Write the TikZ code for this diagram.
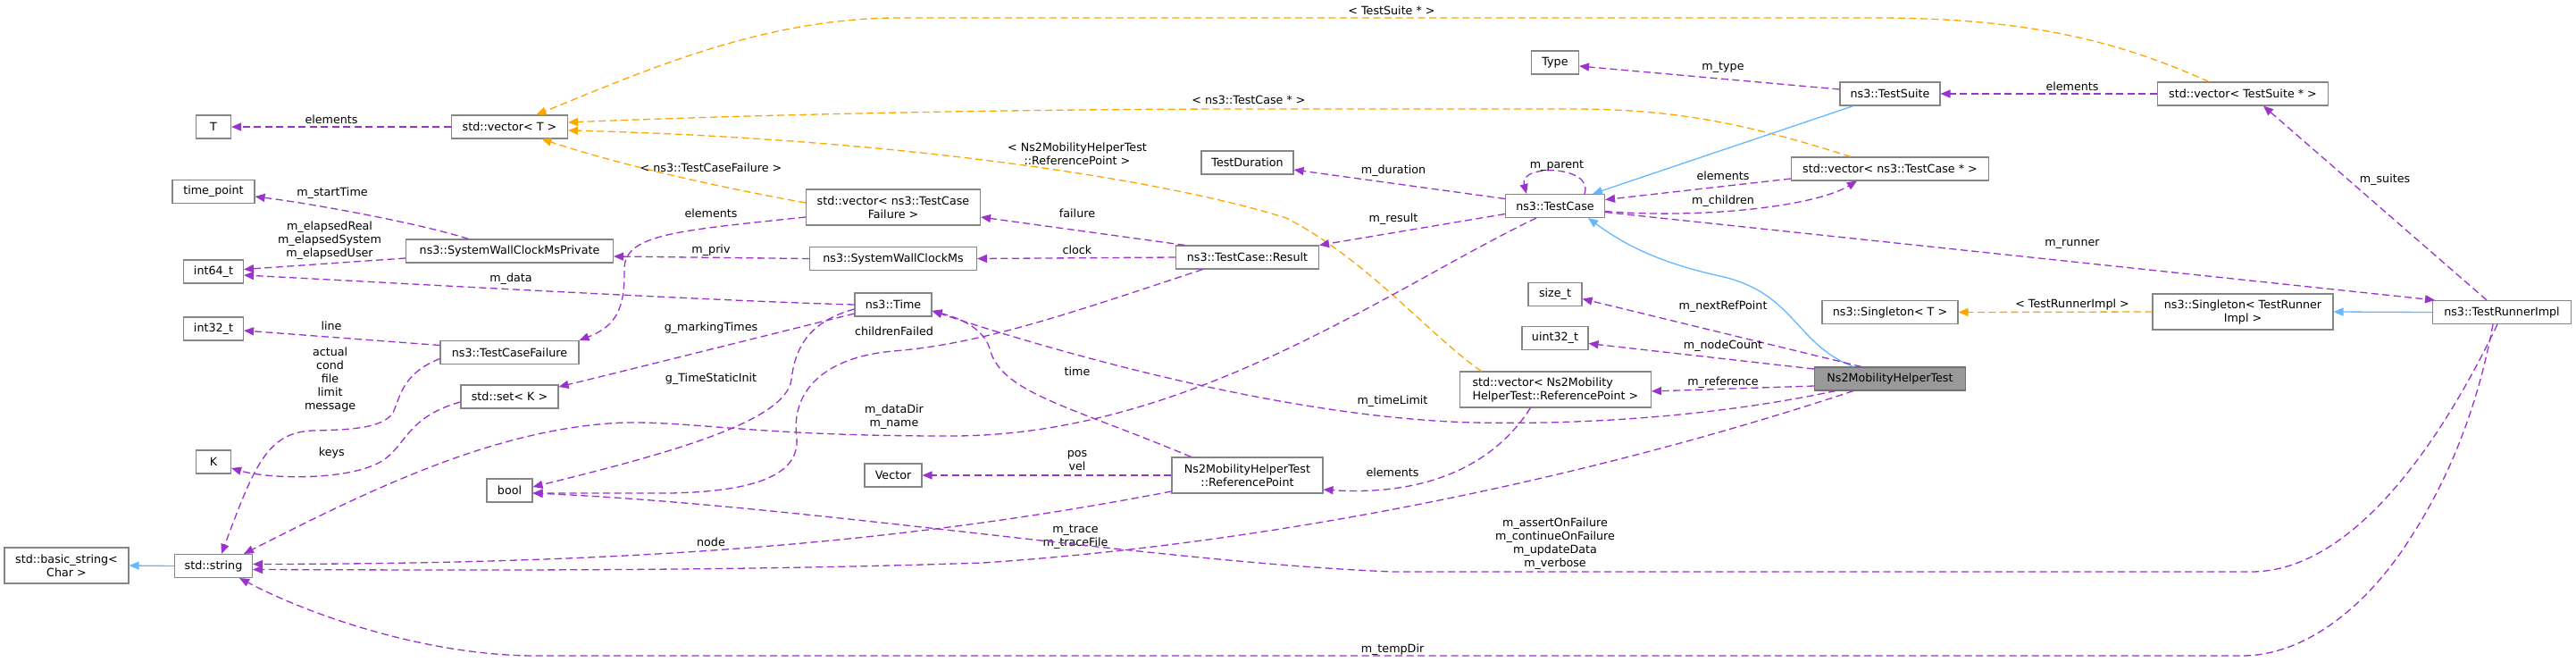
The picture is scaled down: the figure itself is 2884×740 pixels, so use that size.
\documentclass[tikz,border=0pt]{standalone}
\usepackage{fontspec}
\setmainfont{DejaVu Sans}
\usetikzlibrary{arrows.meta}
\definecolor{relpurple}{HTML}{9A32CD}
\definecolor{tplorange}{HTML}{FFA500}
\definecolor{inhblue}{HTML}{63B8FF}
\definecolor{boxgray}{HTML}{858585}
\definecolor{focusgray}{HTML}{999999}
\begin{document}
\begin{tikzpicture}[x=1pt,y=-1pt,
  box/.style={draw=boxgray, fill=white, line width=1.1pt, inner sep=0pt, minimum height=26pt, font=\fontsize{12.7}{15}\selectfont, align=center},
  boxtwo/.style={box, minimum height=40pt},
  focus/.style={box, fill=focusgray, draw=boxgray!85!black},
  lab/.style={font=\fontsize{12.7}{15}\selectfont, align=center, inner sep=0pt, text=black},
  tipstyle/.style={-{Triangle[length=11pt,width=9pt]}},
  usage/.style={draw=relpurple, line width=1.3pt, dash pattern=on 8pt off 4.5pt, tipstyle},
  tmpl/.style={draw=tplorange, line width=1.3pt, dash pattern=on 8pt off 4.5pt, tipstyle},
  inh/.style={draw=inhblue, line width=1.3pt, tipstyle}]
\path[use as bounding box, fill=white] (0,0) rectangle (2884,740);

% nodes
\node[boxtwo, minimum width=139pt] (bstr) at (74.5,633) {std::basic\_string<\\Char >};
\node[box, minimum width=87pt] (str) at (239,633.5) {std::string};
\node[box, minimum width=39pt] (T) at (239,142) {T};
\node[box, minimum width=92pt] (tp) at (239,214.5) {time\_point};
\node[box, minimum width=67pt] (i64) at (239,304) {int64\_t};
\node[box, minimum width=67pt] (i32) at (239,368) {int32\_t};
\node[box, minimum width=39pt] (K) at (239,517) {K};
\node[box, minimum width=130pt] (vecT) at (570.5,142) {std::vector< T >};
\node[box, minimum width=232pt] (swp) at (570.5,281) {ns3::SystemWallClockMsPrivate};
\node[box, minimum width=155pt] (tcf) at (570.5,394.5) {ns3::TestCaseFailure};
\node[box, minimum width=109pt] (setK) at (570.5,444) {std::set< K >};
\node[box, minimum width=51pt] (bool) at (570.5,549) {bool};
\node[boxtwo, minimum width=195pt] (vtcf) at (1000,232) {std::vector< ns3::TestCase\\Failure >};
\node[box, minimum width=187pt] (swc) at (1000,289.5) {ns3::SystemWallClockMs};
\node[box, minimum width=86pt] (time) at (1000,341) {ns3::Time};
\node[box, minimum width=64pt] (vec) at (1000,532) {Vector};
\node[box, minimum width=103pt] (td) at (1396.5,182) {TestDuration};
\node[box, minimum width=160pt] (res) at (1396.5,288) {ns3::TestCase::Result};
\node[boxtwo, minimum width=169pt] (rp) at (1396.5,532) {Ns2MobilityHelperTest\\::ReferencePoint};
\node[box, minimum width=53pt] (type) at (1741,70) {Type};
\node[box, minimum width=111pt] (tc) at (1741,230.5) {ns3::TestCase};
\node[box, minimum width=60pt] (sz) at (1741,329.5) {size\_t};
\node[box, minimum width=74pt] (u32) at (1741,378.5) {uint32\_t};
\node[boxtwo, minimum width=214pt, align=left] (vrp) at (1741.4,436) {std::vector< Ns2Mobility\\HelperTest::ReferencePoint >};
\node[box, minimum width=112pt] (ts) at (2116,105) {ns3::TestSuite};
\node[box, minimum width=221pt] (vtc) at (2116,189) {std::vector< ns3::TestCase * >};
\node[box, minimum width=152pt] (sgT) at (2116,349.5) {ns3::Singleton< T >};
\node[focus, minimum width=169pt] (n2) at (2116,424) {Ns2MobilityHelperTest};
\node[box, minimum width=191pt] (vts) at (2511,105) {std::vector< TestSuite * >};
\node[boxtwo, minimum width=202pt] (sgR) at (2511,349) {ns3::Singleton< TestRunner\\Impl >};
\node[box, minimum width=155pt] (tri) at (2801,349.5) {ns3::TestRunnerImpl};

% inheritance
\draw[inh] (str.west) -- (bstr.east);
\draw[inh] (tri.west) -- (sgR.east);
\draw[inh] ([xshift=-41pt]ts.south) -- ([xshift=42pt]tc.north);
\draw[inh] ([xshift=-41pt]n2.north) .. controls (2010,385) and (2010,330) .. (1930,310) .. controls (1860,295) and (1820,275) .. ([xshift=37pt]tc.south);

% template instantiation
\draw[tmpl] ([yshift=5pt]vtcf.west) .. controls (780,205) and (680,180) .. ([xshift=36pt]vecT.south) node[lab,at={(796,188)}]{< ns3::TestCaseFailure >};
\draw[tmpl] ([xshift=-44pt]vtc.north) .. controls (1960,140) and (1880,122) .. (1760,122) -- (1400,122) .. controls (1100,122) and (800,130) .. ([yshift=5pt]vecT.east) node[lab,at={(1398,112)}]{< ns3::TestCase * >};
\draw[tmpl] ([xshift=-83pt]vrp.north) .. controls (1600,375) and (1530,290) .. (1440,244) .. controls (1300,200) and (1000,155) .. ([yshift=-4pt]vecT.east) node[lab,at={(1206,172)}]{< Ns2MobilityHelperTest\\::ReferencePoint >};
\draw[tmpl] ([xshift=-38pt]vts.north) .. controls (2380,50) and (2280,20) .. (2100,20) -- (1000,20) .. controls (850,22) and (720,80) .. ([xshift=30pt]vecT.north) node[lab,at={(1558,12)}]{< TestSuite * >};
\draw[tmpl] (sgR.west) -- (sgT.east) node[lab,at={(2320,341)}]{< TestRunnerImpl >};

% usage relations
\draw[usage] (vecT.west) -- (T.east) node[lab,at={(371,134)}]{elements};
\draw[usage] ([xshift=-46pt]swp.north) .. controls (470,250) and (350,228) .. ([yshift=-5.5pt]tp.east) node[lab,at={(372,216)}]{m\_startTime};
\draw[usage] ([yshift=-8pt]swp.west) -- ([yshift=2.5pt]i64.east) node[lab,at={(369,269)}]{m\_elapsedReal\\m\_elapsedSystem\\m\_elapsedUser};
\draw[usage] (time.west) .. controls (800,337) and (430,316) .. ([yshift=-4pt]i64.east) node[lab,at={(572,312)}]{m\_data};
\draw[usage] ([yshift=8pt]tcf.west) -- ([yshift=-2pt]i32.east) node[lab,at={(371,365)}]{line};
\draw[usage] ([yshift=-7pt]tcf.west) .. controls (450,418) and (448,445) .. (440,462) .. controls (428,480) and (390,481) .. (350,482) .. controls (300,484) and (285,520) .. ([xshift=9pt]str.north) node[lab,at={(369.6,425)}]{actual\\cond\\file\\limit\\message};
\draw[usage] ([yshift=-6pt]setK.west) .. controls (450,468) and (455,505) .. (420,520) .. controls (380,538) and (300,536) .. ([yshift=-7pt]K.east) node[lab,at={(371.4,507)}]{keys};
\draw[usage] ([xshift=-21pt]tc.south) .. controls (1560,320) and (1330,490) .. (1060,488) .. controls (850,488) and (780,472) .. (700,473) .. controls (560,478) and (420,545) .. ([xshift=34pt]str.north) node[lab,at={(1001,467)}]{m\_dataDir\\m\_name};
\draw[usage] ([yshift=-18pt]rp.west) .. controls (1000,610) and (700,631) .. ([yshift=2pt]str.east) node[lab,at={(796,607)}]{node};
\draw[usage] ([xshift=-41pt]n2.south) .. controls (1750,545) and (1400,610) .. (1100,630) .. controls (800,640) and (500,638) .. ([yshift=-4pt]str.east) node[lab,at={(1204,601)}]{m\_trace\\m\_traceFile};
\draw[usage] ([yshift=-10pt]time.west) .. controls (900,365) and (700,415) .. ([yshift=11pt]setK.east) node[lab,at={(796,367)}]{g\_markingTimes};
\draw[usage] ([yshift=-5pt]time.west) .. controls (905,360) and (890,390) .. (886,425) .. controls (880,470) and (760,505) .. ([yshift=4pt]bool.east) node[lab,at={(796,424)}]{g\_TimeStaticInit};
\draw[usage] ([xshift=-50pt]res.south) .. controls (1200,350) and (1100,385) .. (1000,393) .. controls (920,400) and (885,440) .. (892,490) .. controls (895,530) and (850,550) .. (750,552) -- ([yshift=-3pt]bool.east) node[lab,at={(1001,371)}]{childrenFailed};
\draw[usage] ([xshift=-5pt]tri.south) .. controls (2740,480) and (2640,640) .. (2520,640) -- (1560,640) .. controls (1300,630) and (900,565) .. ([yshift=-3pt]bool.east) node[lab,at={(1741,609)}]{m\_assertOnFailure\\m\_continueOnFailure\\m\_updateData\\m\_verbose};
\draw[usage] ([xshift=-10pt]tri.south) .. controls (2775,450) and (2745,530) .. (2700,600) .. controls (2650,680) and (2580,734) .. (2510,734) -- (600,734) .. controls (480,734) and (350,690) .. ([xshift=29pt]str.south) node[lab,at={(1559,727)}]{m\_tempDir};
\draw[usage] (swc.west) -- ([yshift=-6pt]swp.east) node[lab,at={(796,280)}]{m\_priv};
\draw[usage] ([yshift=-11pt]vtcf.west) .. controls (760,258) and (700,262) .. (699,300) .. controls (700,345) and (690,365) .. (tcf.north east) node[lab,at={(796,239)}]{elements};
\draw[usage] ([xshift=-70pt]res.north) -- ([yshift=-11pt]vtcf.east) node[lab,at={(1206,239)}]{failure};
\draw[usage] (res.west) -- (swc.east) node[lab,at={(1206,280)}]{clock};
\draw[usage] ([yshift=8pt]tc.west) -- ([yshift=-8pt]td.east) node[lab,at={(1560,191)}]{m\_duration};
\draw[usage] ([yshift=-9pt]tc.west) -- (res.north east) node[lab,at={(1560,245)}]{m\_result};
\draw[usage] ([xshift=33pt]tc.north) .. controls (1785,185) and (1700,183) .. ([xshift=-32pt]tc.north) node[lab,at={(1743,186)}]{m\_parent};
\draw[usage] ([yshift=5pt]ts.west) -- ([yshift=-4pt]type.east) node[lab,at={(1929,76)}]{m\_type};
\draw[usage] (vts.west) -- (ts.east) node[lab,at={(2320,97)}]{elements};
\draw[usage] ([yshift=-11pt]vtc.west) -- ([yshift=7pt]tc.east) node[lab,at={(1929,197)}]{elements};
\draw[usage] ([yshift=-6pt]tc.east) .. controls (1900,245) and (2030,232) .. ([xshift=-37pt]vtc.south) node[lab,at={(1929,225)}]{m\_children};
\draw[usage] ([yshift=-7pt]tc.east) -- ([xshift=-75pt]tri.north) node[lab,at={(2320,273)}]{m\_runner};
\draw[usage] ([xshift=-17pt]tri.north) -- ([xshift=23pt]vts.south) node[lab,at={(2670,201)}]{m\_suites};
\draw[usage] ([xshift=-32pt]n2.north) -- ([yshift=-5pt]sz.east) node[lab,at={(1929,343)}]{m\_nextRefPoint};
\draw[usage] ([yshift=11pt]n2.west) -- ([yshift=-6pt]u32.east) node[lab,at={(1929,387)}]{m\_nodeCount};
\draw[usage] ([yshift=-8pt]n2.west) -- ([yshift=-2pt]vrp.east) node[lab,at={(1929,428)}]{m\_reference};
\draw[usage] ([xshift=-61pt]n2.south) .. controls (1900,470) and (1750,475) .. (1650,473) .. controls (1450,468) and (1200,400) .. ([yshift=-7pt]time.east) node[lab,at={(1559,449)}]{m\_timeLimit};
\draw[usage] ([xshift=-63pt]rp.north) .. controls (1200,455) and (1120,440) .. (1108,390) .. controls (1100,365) and (1070,355) .. ([yshift=-7pt]time.east) node[lab,at={(1206,416)}]{time};
\draw[usage] (rp.west) -- (vec.east) node[lab,at={(1206,516)}]{pos\\vel};
\draw[usage] ([xshift=-28pt]vrp.south) .. controls (1670,525) and (1590,555) .. ([yshift=-16pt]rp.east) node[lab,at={(1559,529)}]{elements};
\end{tikzpicture}
\end{document}
